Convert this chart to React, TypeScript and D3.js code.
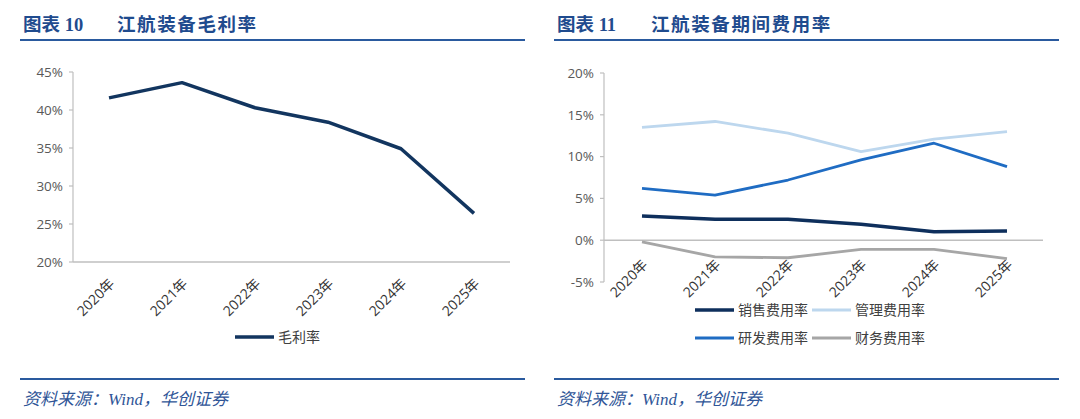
import { useEffect, useRef } from "react";
import * as d3 from "d3";

// ---- data ----
const years = ["2020年", "2021年", "2022年", "2023年", "2024年", "2025年"];
const grossMargin = [41.6, 43.6, 40.3, 38.4, 34.9, 26.4];

const salesRate = [2.9, 2.5, 2.5, 1.9, 1.0, 1.1];
const adminRate = [13.5, 14.2, 12.8, 10.6, 12.1, 13.0];
const rdRate = [6.2, 5.4, 7.2, 9.6, 11.6, 8.8];
const finRate = [-0.2, -2.0, -2.1, -1.1, -1.1, -2.2];

const leftTicks = [20, 25, 30, 35, 40, 45];
const rightTicks = [-5, 0, 5, 10, 15, 20];

const rightSeries = [
    { name: "销售费用率", values: salesRate, color: "#0e2f5c", width: 3.5 },
    { name: "管理费用率", values: adminRate, color: "#bdd7ee", width: 2.8 },
    { name: "研发费用率", values: rdRate, color: "#1f6cc3", width: 2.8 },
    { name: "财务费用率", values: finRate, color: "#a6a6a6", width: 2.8 },
];

const W = 1080;
const H = 419;
const AXIS = "#bfbfbf";
const TICK_TEXT = "#595959";
const TITLE_BLUE = "#1f4b8e";
const FONT = '"Open Sans", "Noto Sans CJK SC", sans-serif';

type Panel = {
    x0: number; // left edge of header line
    x1: number;
    num: string;
    title: string;
};

const panels: Panel[] = [
    { x0: 20, x1: 525, num: "10", title: "江航装备毛利率" },
    { x0: 554, x1: 1059, num: "11", title: "江航装备期间费用率" },
];

export default function App() {
    const ref = useRef<SVGSVGElement>(null);

    useEffect(() => {
        const svg = d3.select(ref.current);
        svg.selectAll("*").remove();

        svg.append("rect").attr("width", W).attr("height", H).attr("fill", "#ffffff");

        // headers + footers
        panels.forEach((p) => {
            svg.append("text")
                .attr("x", p.x0 + 3)
                .attr("y", 31)
                .attr("font-family", '"Liberation Serif", "Noto Sans CJK SC", serif')
                .attr("font-weight", "bold")
                .attr("font-size", 18.5)
                .attr("fill", TITLE_BLUE)
                .text(`图表 ${p.num}`);
            svg.append("text")
                .attr("x", p.x0 + 97)
                .attr("y", 31)
                .attr("font-family", '"Noto Sans CJK SC", serif')
                .attr("font-weight", "bold")
                .attr("font-size", 18.5)
                .attr("letter-spacing", 1.6)
                .attr("fill", TITLE_BLUE)
                .text(p.title);
            svg.append("line")
                .attr("x1", p.x0).attr("x2", p.x1)
                .attr("y1", 40).attr("y2", 40)
                .attr("stroke", "#2a5a9e").attr("stroke-width", 2);
            svg.append("line")
                .attr("x1", p.x0).attr("x2", p.x1)
                .attr("y1", 379).attr("y2", 379)
                .attr("stroke", "#2a5a9e").attr("stroke-width", 2);
            svg.append("text")
                .attr("x", p.x0 + 3)
                .attr("y", 405)
                .attr("font-family", '"Liberation Serif", "Noto Sans CJK SC", serif')
                .attr("font-style", "italic")
                .attr("font-size", 17)
                .attr("fill", "#2f5597")
                .text("资料来源：Wind，华创证券");
        });

        // ---------- left chart ----------
        const xL = d3.scaleBand<string>().domain(years).range([72.5, 510.5]);
        const yL = d3.scaleLinear().domain([20, 45]).range([262, 72]);
        const gL = svg.append("g");

        drawYAxis(gL, yL, leftTicks, 73, 262);
        gL.append("line")
            .attr("x1", 73).attr("x2", 510)
            .attr("y1", yL(20)).attr("y2", yL(20))
            .attr("stroke", AXIS).attr("stroke-width", 1.5);
        drawXLabels(gL, xL, yL(20) + 19);

        const lineL = d3.line<number>()
            .x((_, i) => (xL(years[i]) ?? 0) + xL.bandwidth() / 2)
            .y((d) => yL(d));
        gL.append("path")
            .attr("d", lineL(grossMargin))
            .attr("fill", "none")
            .attr("stroke", "#12355f")
            .attr("stroke-width", 3.5)
            .attr("stroke-linejoin", "round");

        legendItem(gL, 235, 337, "毛利率", "#12355f", 3.5);

        // ---------- right chart ----------
        const xR = d3.scaleBand<string>().domain(years).range([605.5, 1043.5]);
        const yR = d3.scaleLinear().domain([-5, 20]).range([282, 73]);
        const gR = svg.append("g");

        drawYAxis(gR, yR, rightTicks, 604, 282);
        gR.append("line")
            .attr("x1", 604).attr("x2", 1043)
            .attr("y1", yR(0)).attr("y2", yR(0))
            .attr("stroke", AXIS).attr("stroke-width", 1.5);
        drawXLabels(gR, xR, yR(0) + 22);

        const lineR = d3.line<number>()
            .x((_, i) => (xR(years[i]) ?? 0) + xR.bandwidth() / 2)
            .y((d) => yR(d));
        // draw order: light ones first, navy last
        [1, 2, 3, 0].forEach((k) => {
            const s = rightSeries[k];
            gR.append("path")
                .attr("d", lineR(s.values))
                .attr("fill", "none")
                .attr("stroke", s.color)
                .attr("stroke-width", s.width)
                .attr("stroke-linejoin", "round");
        });

        const legX = [695, 812];
        const legY = [310, 338];
        rightSeries.forEach((s, i) => {
            legendItem(gR, legX[i % 2], legY[Math.floor(i / 2)], s.name, s.color, s.width);
        });
    }, []);

    return (
        <div style={{ position: "absolute", left: 0, top: 0 }}>
            <svg ref={ref} width={W} height={H} />
        </div>
    );
}

// eslint-disable-next-line @typescript-eslint/no-explicit-any
function drawYAxis(g: any, y: d3.ScaleLinear<number, number>, ticks: number[], x: number, bottom: number) {
    g.append("line")
        .attr("x1", x).attr("x2", x)
        .attr("y1", y(ticks[ticks.length - 1])).attr("y2", bottom)
        .attr("stroke", AXIS).attr("stroke-width", 1.2);
    ticks.forEach((t) => {
        g.append("line")
            .attr("x1", x - 4).attr("x2", x)
            .attr("y1", y(t)).attr("y2", y(t))
            .attr("stroke", AXIS).attr("stroke-width", 1.2);
        g.append("text")
            .attr("x", x - 10)
            .attr("y", y(t))
            .attr("dy", "0.35em")
            .attr("text-anchor", "end")
            .attr("font-family", FONT)
            .attr("font-size", 13.5)
            .attr("fill", TICK_TEXT)
            .text(`${t}%`);
    });
}

// eslint-disable-next-line @typescript-eslint/no-explicit-any
function drawXLabels(g: any, x: d3.ScaleBand<string>, yPos: number) {
    years.forEach((yr) => {
        const cx = (x(yr) ?? 0) + x.bandwidth() / 2 + 3;
        g.append("text")
            .attr("transform", `translate(${cx},${yPos}) rotate(-45)`)
            .attr("text-anchor", "end")
            .attr("dy", "0.35em")
            .attr("font-family", FONT)
            .attr("font-size", 14)
            .attr("fill", "#333333")
            .text(yr);
    });
}

// eslint-disable-next-line @typescript-eslint/no-explicit-any
function legendItem(g: any, x: number, y: number, label: string, color: string, width: number) {
    g.append("line")
        .attr("x1", x).attr("x2", x + 39)
        .attr("y1", y).attr("y2", y)
        .attr("stroke", color).attr("stroke-width", width);
    g.append("text")
        .attr("x", x + 43)
        .attr("y", y)
        .attr("dy", "0.35em")
        .attr("font-family", FONT)
        .attr("font-size", 14)
        .attr("fill", "#404040")
        .text(label);
}
